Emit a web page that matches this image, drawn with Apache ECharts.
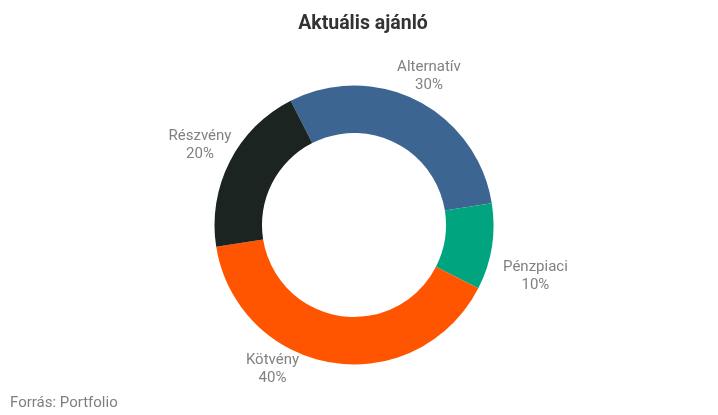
<!DOCTYPE html>
<html>
<head>
<meta charset="utf-8">
<script src="https://cdn.jsdelivr.net/npm/echarts@6/dist/echarts.min.js"></script>
<style>
html,body{margin:0;padding:0;background:#fff;}
#chart{width:718px;height:415px;}
</style>
</head>
<body>
<div id="chart"></div>
<script>
var categories = ['Alternatív', 'Pénzpiaci', 'Kötvény', 'Részvény'];
var values = [30, 10, 40, 20];
var colors = ['#3c6591', '#00a57f', '#ff5500', '#1b2420'];
var labelShift = [[-7, 2], [9, 25], [-50, -23], [2, -3]];

var chart = echarts.init(document.getElementById('chart'));
chart.setOption({
  animation: false,
  title: {
    text: 'Aktuális ajánló',
    left: 358,
    top: 9,
    textAlign: 'center',
    textStyle: {fontFamily: 'Roboto', fontSize: 19.5, fontWeight: 'bold', color: '#333333'}
  },
  graphic: [{
    type: 'text',
    left: 10,
    top: 396,
    style: {text: 'Forrás: Portfolio', fontFamily: 'Roboto', fontSize: 15, fill: '#7f7f7f'}
  }],
  series: [{
    type: 'pie',
    center: [354, 225],
    radius: [92, 139.5],
    startAngle: 117,
    clockwise: true,
    avoidLabelOverlap: false,
    itemStyle: {borderWidth: 0},
    label: {
      show: true,
      position: 'outside',
      formatter: '{b}\n{d}%',
      fontFamily: 'Roboto',
      fontSize: 15,
      lineHeight: 18,
      color: '#818181'
    },
    labelLine: {show: false, length: 30, length2: 0},
    labelLayout: function (p) {
      var s = labelShift[p.dataIndex];
      return {align: 'center', verticalAlign: 'middle', dx: s[0], dy: s[1]};
    },
    emphasis: {disabled: true},
    data: categories.map(function (c, i) {
      return {name: c, value: values[i], itemStyle: {color: colors[i]}};
    })
  }]
});
</script>
</body>
</html>
